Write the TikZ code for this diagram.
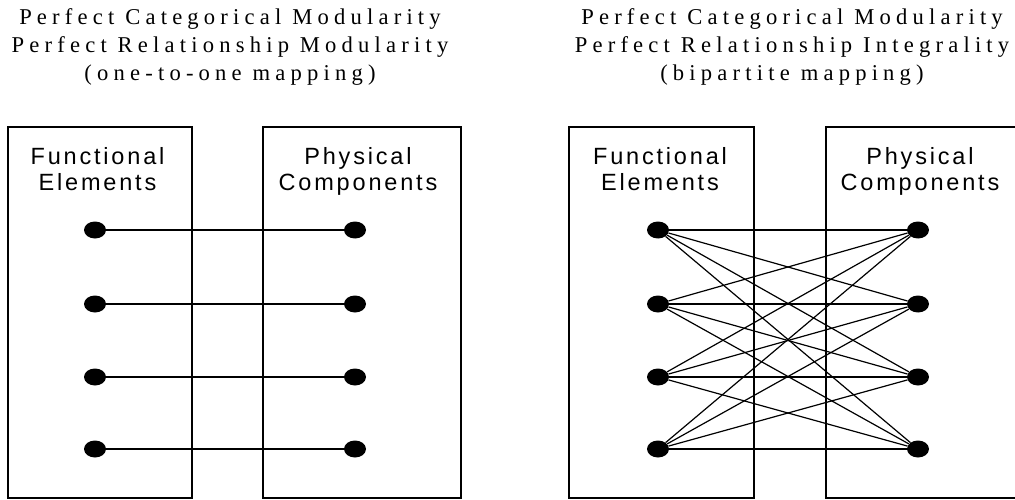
\documentclass[tikz,border=0pt]{standalone}
\usepackage{fontspec}
\setmainfont{Liberation Serif}
\setsansfont{Liberation Sans}
\newfontfamily\titlefont[LetterSpace=23]{Liberation Serif}
\newfontfamily\boxfont[LetterSpace=12]{Liberation Sans}
\usetikzlibrary{shapes.geometric}

\begin{document}
\begin{tikzpicture}[x=1pt,y=-1pt,
  heading/.style={font=\titlefont\fontsize{22.6}{28}\selectfont,align=center,inner sep=0pt},
  areabox/.style={draw,line width=2pt,minimum height=371pt,inner sep=0pt},
  boxtext/.style={font=\boxfont\fontsize{23.5}{26}\selectfont,align=center,inner sep=0pt},
  dot/.style={ellipse,fill=black,minimum width=22pt,minimum height=17pt,inner sep=0pt},
  link/.style={line width=1.2pt}
]
\useasboundingbox (0,0) rectangle (1015,500);
\clip (0,0) rectangle (1015,500);
% headings
\node[heading,anchor=base] (headL) at (230,81) {Perfect Categorical Modularity\\Perfect Relationship Modularity\\(one-to-one mapping)};
\node[heading,anchor=base] (headR) at (792,81) {Perfect Categorical Modularity\\Perfect Relationship Integrality\\(bipartite mapping)};
% areas
\node[areabox,minimum width=184pt] (funcL) at (100,312.5) {};
\node[areabox,minimum width=198pt] (physL) at (362,312.5) {};
\node[areabox,minimum width=185pt] (funcR) at (661.5,312.5) {};
\node[areabox,minimum width=198pt] (physR) at (925,312.5) {};
\node[boxtext,anchor=base] (funcLtxt) at (97.5,190) {Functional\\Elements};
\node[boxtext,anchor=base] (physLtxt) at (358,190) {Physical\\Components};
\node[boxtext,anchor=base] (funcRtxt) at (660,190) {Functional\\Elements};
\node[boxtext,anchor=base] (physRtxt) at (920,190) {Physical\\Components};
% elements and components
\foreach \y [count=\i] in {230,304,377,449} {
  \node[dot] (fl\i) at (95,\y) {};
  \node[dot] (pl\i) at (355,\y) {};
  \node[dot] (fr\i) at (658,\y) {};
  \node[dot] (pr\i) at (918,\y) {};
}
% one-to-one
\foreach \i in {1,...,4}
  \draw[link] (fl\i) -- (pl\i);
% bipartite
\foreach \i in {1,...,4}
  \foreach \j in {1,...,4}
    \draw[link] (fr\i) -- (pr\j);
\end{tikzpicture}
\end{document}
